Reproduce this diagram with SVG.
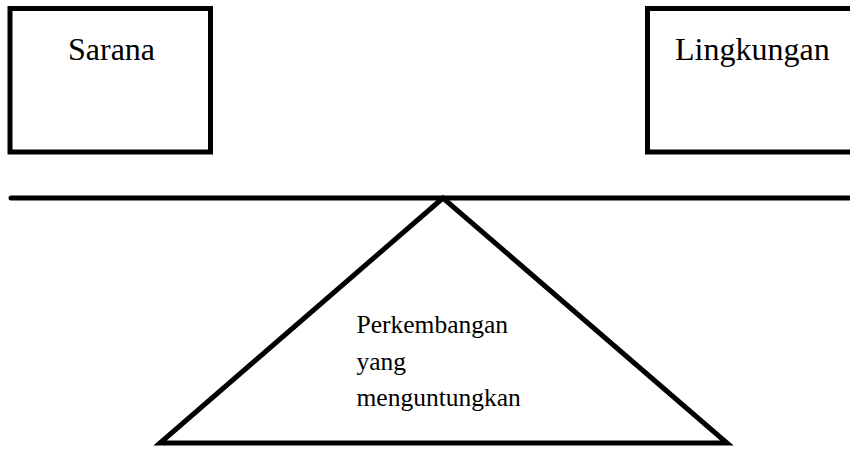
<svg xmlns="http://www.w3.org/2000/svg" width="850" height="450" viewBox="0 0 850 450">
<style>
.box{fill:#fff;stroke:#000;stroke-width:5}
.ln{fill:none;stroke:#000;stroke-width:5}
.t{font-family:"Liberation Serif","Times New Roman",serif;fill:#000}
</style>
<rect width="850" height="450" fill="#fff"/>
<g id="connectors">
<line class="ln" x1="11" y1="198" x2="852" y2="198" stroke-linecap="round"/>
</g>
<g id="sarana">
<rect class="box" x="10" y="8.5" width="200.5" height="143.5"/>
<text class="t" x="68" y="59.5" font-size="32">Sarana</text>
</g>
<g id="lingkungan">
<rect class="box" x="647.5" y="8.5" width="210" height="143.5"/>
<text class="t" x="675" y="59.5" font-size="32">Lingkungan</text>
</g>
<g id="perkembangan">
<polygon class="ln" points="443,198 160,443 727,443" stroke-linejoin="miter"/>
<text class="t" font-size="25.5"><tspan x="356.5" y="332.5">Perkembangan</tspan><tspan x="356.5" y="369.5">yang</tspan><tspan x="356.5" y="405.5">menguntungkan</tspan></text>
</g>
</svg>
